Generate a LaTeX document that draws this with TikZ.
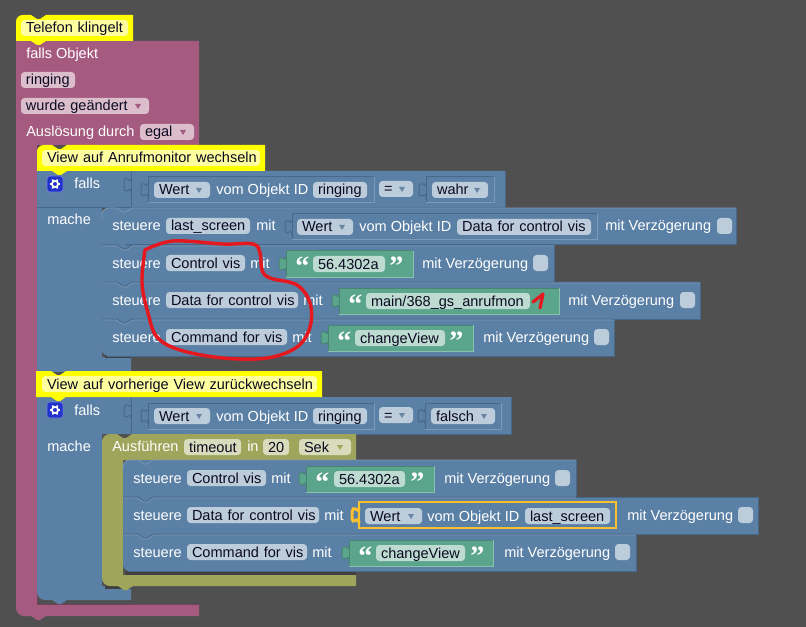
\documentclass[tikz,border=0pt]{standalone}
\usepackage{fontspec}
\setmainfont{Liberation Sans}
\newfontfamily\qfont{Liberation Serif}
\definecolor{bg}{HTML}{505050}
\definecolor{pk}{HTML}{A55B80}
\definecolor{bl}{HTML}{5B80A5}
\definecolor{bld}{HTML}{48688A}
\definecolor{bll}{HTML}{7C99B7}
\definecolor{gr}{HTML}{5BA58C}
\definecolor{grd}{HTML}{498573}
\definecolor{grl}{HTML}{8CC0AE}
\definecolor{ol}{HTML}{9FA55B}
\definecolor{fb}{HTML}{BDCCDB}
\definecolor{fp}{HTML}{DBBDCC}
\definecolor{fg}{HTML}{BDDBD1}
\definecolor{fo}{HTML}{D9DBBD}
\definecolor{fy}{HTML}{FFFFA0}
\definecolor{yl}{HTML}{FFFF00}
\definecolor{sel}{HTML}{FBC02D}
\definecolor{txt}{HTML}{0A0A20}
\definecolor{rd}{HTML}{E3191F}
\definecolor{gearbg}{HTML}{2233CC}
\definecolor{shd}{HTML}{404040}
\tikzset{
  lab/.style={text=white,inner sep=0pt,font=\fontsize{10.9pt}{12pt}\selectfont,anchor=base west},
  fldn/.style={rounded corners=2.6pt,text=txt,inner xsep=3.75pt,inner ysep=0.75pt,outer sep=0pt,align=left,
     text height=9pt,text depth=1.5pt,font=\fontsize{10.9pt}{12pt}\selectfont},
  chkn/.style={rounded corners=2.6pt,fill=fb,minimum width=11.25pt,minimum height=12pt,inner sep=0pt,outer sep=0pt},
  qn/.style={text=white,inner sep=0pt,anchor=base west,font=\qfont\bfseries\fontsize{21pt}{22pt}\selectfont}
}
\newcommand\lab[4]{\node[lab] (#1) at (#2,#3) {#4};}
\newcommand\fld[6][fb]{\node[fldn,fill=#1,anchor=west,text width={(#4-#3)*0.75pt-7.5pt}] (#2) at (#3,#5) {\mbox{#6}};}
\newcommand\dd[3][bld!70!fb]{\fill[#1] ({#2-3},{#3-2}) -- ({#2+3},{#3-2}) -- (#2,{#3+3}) -- cycle;}
\newcommand\chk[3]{\node[chkn,anchor=west] (#1) at (#2,#3) {};}
% row block: x0 y0 x1 y1
\newcommand\rowb[4]{\fill[bl] (#1,#2) rectangle (#3,#4);
  \draw[bld,line width=0.75pt] (#3,#2) -- (#3,#4) -- (#1,#4);}
% separator with notch
\newcommand\sepn[3]{\draw[bld,line width=0.75pt] (#1,#2) -- ({#1+15},#2) -- ({#1+21},{#2+4}) -- ({#1+24},{#2+4}) -- ({#1+30},#2) -- (#3,#2);
  \draw[bll,line width=0.5pt] ({#1+0.5},{#2+1}) -- ({#1+14.5},{#2+1}) -- ({#1+20.5},{#2+5}) -- ({#1+24.5},{#2+5}) -- ({#1+30.5},{#2+1}) -- (#3,{#2+1});}
% tab outline path
\newcommand\tabp[2]{(#1,{#2+6}) .. controls (#1,{#2+14}) and ({#1-7},{#2-2}) .. ({#1-7},{#2+13.5}) .. controls ({#1-7},{#2+27}) and (#1,{#2+11}) .. (#1,{#2+21})}
% value block: x0 x1 y0 fill dark light
\newcommand\vblk[6]{\fill[#4] \tabp{#1}{#3} -- cycle;
  \draw[#5,line width=0.75pt] \tabp{#1}{#3};
  \fill[#4] (#1,#3) rectangle (#2,{#3+26});
  \draw[#5,line width=0.75pt] (#1,{#3+26}) -- (#1,#3) -- (#2,#3);
  \draw[#6,line width=0.75pt] (#1,{#3+26}) -- (#2,{#3+26}) -- (#2,#3);}
\newcommand\cmt[6]{\fill[yl] (#1,#4) [rounded corners=#5pt] -- (#1,#2) [sharp corners] -- ({#1+15},#2) -- ({#1+21},{#2+4}) -- ({#1+24},{#2+4}) -- ({#1+30},#2) -- (#3,#2) -- (#3,#4) -- ({#1+30},#4) -- ({#1+24},{#4+4}) -- ({#1+21},{#4+4}) -- ({#1+15},#4) -- cycle;}
\newcommand\gear[2]{\fill[gearbg,rounded corners=2.2pt,draw=fb!50!gearbg,line width=0.5pt] ({#1-8},{#2-8}) rectangle ({#1+8},{#2+8});
  \foreach \a in {0,60,...,300}{\draw[white,line width=1.2pt] ($(#1,#2)+(\a:2.6pt)$) -- ($(#1,#2)+(\a:3.9pt)$);}
  \draw[white,line width=1.3pt] (#1,#2) circle[radius=2.3pt];}
\usetikzlibrary{calc}
\begin{document}
\begin{tikzpicture}[x=0.75pt,y=-0.75pt]
\fill[bg] (0,0) rectangle (806,627);
\useasboundingbox (0,0) rectangle (806,627);
% pink hat block
\fill[pk] (16,41) -- (199,41) -- (199,145) -- (37,145) -- (37,604) -- (199,604) -- (199,616) -- (46,616) -- (40,620) -- (37,620) -- (31,616) [rounded corners=6pt] -- (16,616) [sharp corners] -- cycle;
\draw[pk!70!black,line width=0.5pt] (37,145) -- (37,604) -- (199,604);
\cmt{16}{15}{133}{41}{5}{}
\node[fldn,fill=fy,anchor=west,text width={(128-21)*0.75pt-7.5pt}] (c1) at (21,28) {\mbox{Telefon klingelt}};
\lab{t1}{26}{59}{falls Objekt}
\fld[fp]{f1}{21}{75}{80}{ringing}
\fld[fp]{f2}{21}{149}{106}{wurde geändert}
\dd[pk]{138}{106}
\lab{t2}{26}{137}{Auslösung durch}
\fld[fp]{f3}{140}{194}{132}{egal}
\dd[pk]{183}{132}
% first if block
\fill[bl] (37,171) -- (505,171) -- (505,208) -- (102,208) -- (102,357) -- (131,357) -- (131,372) -- (37,372) -- cycle;
\draw[bld,line width=0.75pt] (505,171) -- (505,208);
\draw[bld,line width=0.75pt] (131,171) -- (131,208);
\draw[bld,line width=0.75pt] \tabp{131}{172};
\draw[bld,line width=0.75pt] (37,208) -- (505,208);
\fill[bl] (37,209) rectangle (101.5,357);
\fill[shd] (105,355) rectangle (131,358);
\vblk{148}{374}{177}{bl}{bld}{bll}
\fld{w1}{154}{210}{190}{Wert}
\dd{199}{190}
\lab{t3}{216}{195}{vom Objekt ID}
\fld{r1}{313}{367}{190}{ringing}
\fld{e1}{379}{413}{189}{=}
\dd{402}{189}
\vblk{426}{494}{177}{bl}{bld}{bll}
\fld{v1}{432}{488}{190}{wahr}
\dd{477}{190}
\cmt{37}{145}{265}{171}{5}{}
\node[fldn,fill=fy,anchor=west,text width={(260-42)*0.75pt-7.5pt}] (c2) at (42,158) {\mbox{View auf Anrufmonitor wechseln}};
\gear{55}{184}
\lab{t4}{74}{189}{falls}
\lab{t5}{47}{225}{mache}
% rows of first if
\rowb{102}{245}{554}{282}
\rowb{102}{282}{700}{319}
\fill[bl,rounded corners=5pt] (102,300) -- (102,356) -- (614,356) -- (614,300) -- cycle;
\fill[bl] (102,319) rectangle (614,340);
\fill[bl] (590,319) rectangle (614,356);
\draw[bld,line width=0.75pt] (614,319) -- (614,356) -- (107,356);
\fill[bl] (110,208) rectangle (736,245);
\draw[bld,line width=0.75pt] (736,208) -- (736,245) -- (102,245);
\fill[bl,rounded corners=5pt] (102,245) -- (102,208) -- (125,208) -- (125,245) -- cycle;
\fill[bl] (102,230) rectangle (125,245);
\draw[bll,line width=0.5pt] (102,218) [rounded corners=5pt] -- (102,208) [sharp corners] -- (117,208) -- (123,212) -- (126,212) -- (132,208) -- (736,208);
\sepn{102}{245}{554}
\sepn{102}{282}{700}
\sepn{102}{319}{614}
\lab{s1}{112}{231}{steuere}
\fld{g1}{166}{250}{226}{last\_screen}
\lab{m1}{256}{231}{mit}
\vblk{292}{597}{214}{bl}{bld}{bll}
\fld{w2}{297}{353}{227}{Wert}
\dd{342}{227}
\lab{t6}{359}{232}{vom Objekt ID}
\fld{d1}{457}{591}{227}{Data for control vis}
\lab{v2}{605}{231}{mit Verzögerung}
\chk{k1}{717}{226}
\lab{s2}{112}{268}{steuere}
\fld{g2}{166}{245}{263}{Control vis}
\lab{m2}{250}{268}{mit}
\vblk{286}{413}{251}{gr}{grd}{grl}
\node[qn] (q1) at (295,276) {“};
\fld[fg]{a1}{313}{385}{264}{56.4302a}
\node[qn] (q2) at (389,276) {”};
\lab{v3}{422}{268}{mit Verzögerung}
\chk{k2}{533}{263}
\lab{s3}{112}{305}{steuere}
\fld{g3}{166}{298}{300}{Data for control vis}
\lab{m3}{303}{305}{mit}
\vblk{339}{559}{288}{gr}{grd}{grl}
\node[qn] (q3) at (348,313) {“};
\fld[fg]{a2}{366}{530}{301}{main/368\_gs\_anrufmon}
\lab{v4}{568}{305}{mit Verzögerung}
\chk{k3}{680}{300}
\lab{s4}{112}{342}{steuere}
\fld{g4}{166}{287}{337}{Command for vis}
\lab{m4}{292}{342}{mit}
\vblk{328}{473}{325}{gr}{grd}{grl}
\node[qn] (q4) at (337,350) {“};
\fld[fg]{a3}{355}{445}{338}{changeView}
\node[qn] (q5) at (449,350) {”};
\lab{v5}{483}{342}{mit Verzögerung}
\chk{k4}{594}{337}
% second if block
\fill[bl] (37,397) -- (511,397) -- (511,434) -- (102,434) -- (102,586) -- (131,586) -- (131,600) -- (67,600) -- (61,604) -- (58,604) -- (52,600) [rounded corners=6pt] -- (37,600) [sharp corners] -- cycle;
\draw[bld,line width=0.75pt] (511,397) -- (511,434) -- (356,434);
\draw[bld,line width=0.75pt] (131,397) -- (131,434);
\draw[bld,line width=0.75pt] \tabp{131}{398};
\vblk{148}{374}{403}{bl}{bld}{bll}
\fld{w3}{154}{210}{416}{Wert}
\dd{199}{416}
\lab{t7}{216}{421}{vom Objekt ID}
\fld{r2}{313}{367}{416}{ringing}
\fld{e2}{379}{413}{415}{=}
\dd{402}{415}
\vblk{425}{501}{403}{bl}{bld}{bll}
\fld{v6}{431}{495}{416}{falsch}
\dd{484}{416}
\cmt{36}{371}{322}{397}{0}{}
\node[fldn,fill=fy,anchor=west,text width={(317-42)*0.75pt-7.5pt}] (c3) at (42,384) {\mbox{View auf vorherige View zurückwechseln}};
\gear{55}{410}
\lab{t8}{74}{415}{falls}
\lab{t9}{47}{451}{mache}
% olive timeout
\fill[shd] (105,586) rectangle (131,589);
\fill[ol] (356,434) -- (356,460) -- (123,460) -- (123,575) -- (356,575) -- (356,586) -- (133,586) -- (127,590) -- (124,590) -- (118,586) [rounded corners=6pt] -- (102,586) -- (102,434) [sharp corners] -- (117,434) -- (123,438) -- (126,438) -- (132,434) -- cycle;
\lab{t10}{112}{451}{Ausführen}
\fld[fo]{o1}{184}{241}{447}{timeout}
\lab{t11}{247}{451}{in}
\fld[fo]{o2}{263}{289}{447}{20}
\fld[fo]{o3}{299}{351}{447}{Sek}
\dd[ol]{340}{447}
% inner rows
\fill[shd] (126,571) rectangle (356,575);
\fill[bl,rounded corners=5pt] (123,497) -- (123,460) -- (576,460) -- (576,497) -- cycle;
\fill[bl] (123,478) rectangle (576,497);
\fill[bl] (300,460) rectangle (576,497);
\draw[bld,line width=0.75pt] (576,460) -- (576,497);
\rowb{123}{497}{758}{534}
\fill[bl,rounded corners=5pt] (123,534) -- (123,571) -- (636,571) -- (636,534) -- cycle;
\fill[bl] (123,534) rectangle (636,550);
\fill[bl] (600,540) rectangle (636,571);
\draw[bld,line width=0.75pt] (636,534) -- (636,571) -- (128,571);
\sepn{123}{497}{576}
\draw[bld,line width=0.75pt] (576,497) -- (758,497);
\sepn{123}{534}{636}
\draw[bll,line width=0.5pt] (123,470) [rounded corners=5pt] -- (123,460) [sharp corners] -- (138,460) -- (144,464) -- (147,464) -- (153,460) -- (576,460);
\lab{s5}{133}{483}{steuere}
\fld{g5}{187}{266}{478}{Control vis}
\lab{m5}{271}{483}{mit}
\vblk{306}{434}{466}{gr}{grd}{grl}
\node[qn] (q6) at (315,491) {“};
\fld[fg]{a4}{334}{405}{479}{56.4302a}
\node[qn] (q7) at (410,491) {”};
\lab{v7}{444}{483}{mit Verzögerung}
\chk{k5}{555}{478}
\lab{s6}{133}{520}{steuere}
\fld{g6}{187}{319}{515}{Data for control vis}
\lab{m6}{324}{520}{mit}
\vblk{359}{616}{502}{bl}{sel}{sel}
\draw[sel,line width=2.2pt] \tabp{359}{502};
\draw[sel,line width=2.2pt] (359,528) -- (359,502) -- (616,502) -- (616,528) -- cycle;
\fld{w4}{365}{422}{516}{Wert}
\dd{411}{516}
\lab{t12}{427}{521}{vom Objekt ID}
\fld{l1}{525}{610}{516}{last\_screen}
\lab{v8}{627}{520}{mit Verzögerung}
\chk{k6}{738}{515}
\lab{s7}{133}{557}{steuere}
\fld{g7}{187}{307}{552}{Command for vis}
\lab{m7}{312}{557}{mit}
\vblk{349}{493}{540}{gr}{grd}{grl}
\node[qn] (q8) at (358,565) {“};
\fld[fg]{a5}{376}{465}{553}{changeView}
\node[qn] (q9) at (470,565) {”};
\lab{v9}{504}{557}{mit Verzögerung}
\chk{k7}{615}{552}
% red annotations
\draw[rd,line width=2.6pt,line cap=round,line join=round] plot[smooth,tension=0.6] coordinates {(145,250) (173,241) (223,244) (253,244) (260,253) (262,270) (270,278) (297,285) (310,303) (310,327) (297,347) (267,358) (223,358) (180,350) (157,337) (148,313) (142,283) (145,250)};
\draw[rd,line width=2.4pt,line cap=round,line join=round] (533,302) -- (543,294) -- (540,308);
\end{tikzpicture}
\end{document}
